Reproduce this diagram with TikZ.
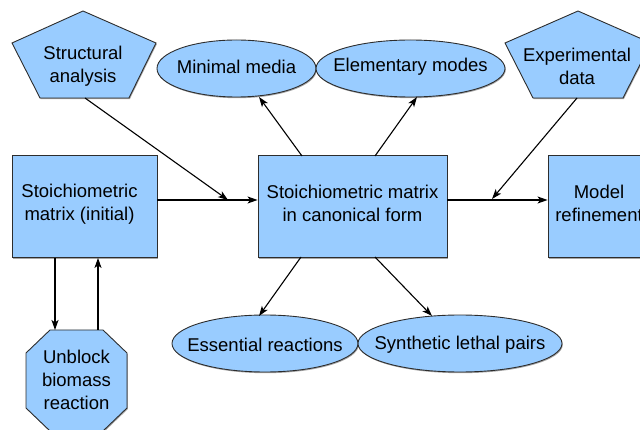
\documentclass[tikz,border=0pt]{standalone}
\usepackage{fontspec}
\setmainfont{Liberation Sans}
\usetikzlibrary{shapes.geometric,arrows.meta,shadows}
\definecolor{boxblue}{RGB}{153,204,255}
\definecolor{edgegray}{RGB}{45,45,45}
\begin{document}
\begin{tikzpicture}[x=1pt,y=-1pt,
  shapestyle/.style={fill=boxblue,draw=edgegray,line width=0.9pt,
    drop shadow={shadow xshift=0.8pt,shadow yshift=-1.2pt,fill=black!35,opacity=1}},
  lbl/.style={align=center,font=\fontsize{18.5}{23}\selectfont},
  boxnode/.style={shapestyle,rectangle,inner sep=0pt,minimum height=102pt},
  ellnode/.style={shapestyle,ellipse,inner sep=0pt,minimum height=57pt},
  arr/.style={-{Stealth[length=10pt,width=7pt,inset=2.5pt]},line width=1.1pt}]
\useasboundingbox (0,0) rectangle (640,430);
\clip (0,0) rectangle (640,430);

% pentagons
\draw[shapestyle] (83,11) -- (156,43) -- (129,98) -- (40,98) -- (12,43) -- cycle;
\node[lbl] (sa) at (83,66) {Structural\\analysis};
\draw[shapestyle] (578,11) -- (651,43) -- (623,98) -- (533,98) -- (505,43) -- cycle;
\node[lbl] (ed) at (577,66) {Experimental\\data};

% octagon
\draw[shapestyle] (50,330) -- (103,330) -- (127,353) -- (127,408) -- (103,431) -- (50,431) -- (26,408) -- (26,353) -- cycle;
\node[lbl] (ub) at (76.5,379.5) {Unblock\\biomass\\reaction};

% boxes
\node[boxnode,minimum width=145pt,label={[lbl,xshift=-5pt,yshift=2.5pt]center:Stoichiometric\\matrix (initial)}] (init) at (84.5,206.5) {};
\node[boxnode,minimum width=189pt,label={[lbl,yshift=3pt]center:Stoichiometric matrix\\in canonical form}] (canon) at (352.5,206.5) {};
\node[boxnode,minimum width=102pt,label={[lbl,yshift=3.5pt]center:Model\\refinement}] (model) at (599,206.5) {};

% ellipses
\node[ellnode,minimum width=159pt,label={[lbl,yshift=1.5pt]center:Minimal media}] (mm) at (236.5,68.5) {};
\node[ellnode,minimum width=189pt,label={[lbl,yshift=1.5pt]center:Elementary modes}] (em) at (410.5,68.5) {};
\node[ellnode,minimum width=186pt,label={[lbl,yshift=-1pt]center:Essential reactions}] (er) at (265,343.5) {};
\node[ellnode,minimum width=204pt,label={[lbl,yshift=-1pt]center:Synthetic lethal pairs}] (sl) at (460,343.5) {};

% coordinates
\coordinate (hline) at (0,200);
\coordinate (saOut) at (85,98);
\coordinate (saIn) at (228,200);
\coordinate (edOut) at (577,98);
\coordinate (edIn) at (492,199);
\coordinate (cTL) at (302,156);
\coordinate (cTR) at (375,156);
\coordinate (cBL) at (301,257);
\coordinate (cBR) at (375,257);
\coordinate (mmIn) at (259,97);
\coordinate (emIn) at (417,97);
\coordinate (erIn) at (259,316);
\coordinate (slIn) at (432,316);
\coordinate (ubL) at (55,330);
\coordinate (ubR) at (98,330);

% connectors
\draw[arr] (init.east |- hline) -- (canon.west |- hline);
\draw[arr] (canon.east |- hline) -- (model.west |- hline);
\draw[arr] (saOut) -- (saIn);
\draw[arr] (edOut) -- (edIn);
\draw[arr] (cTL) -- (mmIn);
\draw[arr] (cTR) -- (emIn);
\draw[arr] (cBL) -- (erIn);
\draw[arr] (cBR) -- (slIn);
\draw[arr] (init.south -| ubL) -- (ubL);
\draw[arr] (ubR) -- (init.south -| ubR);
\end{tikzpicture}
\end{document}
